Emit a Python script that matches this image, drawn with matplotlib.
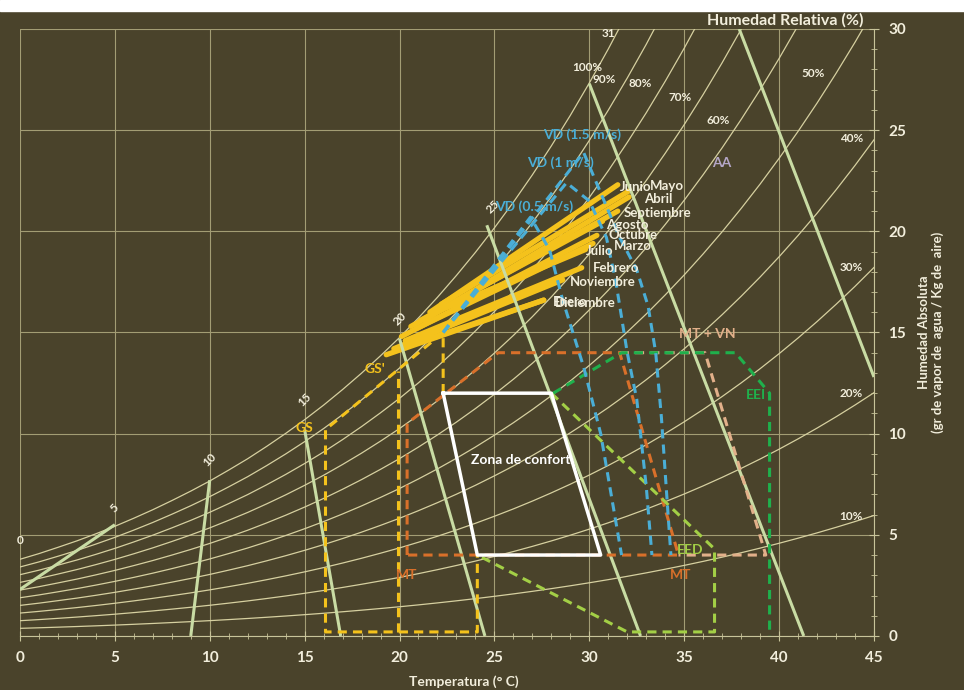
import numpy as np
import matplotlib
matplotlib.use('Agg')
import matplotlib.pyplot as plt
from matplotlib.patches import Rectangle
from matplotlib.ticker import MultipleLocator

plt.rcParams['font.family'] = ['Lato', 'DejaVu Sans']

# saturation humidity (g/kg), 0..45 C
temp_c = np.arange(0, 46)
hum_sat = [3.79, 4.07, 4.38, 4.70, 5.05, 5.42, 5.82, 6.24, 6.69, 7.16,
           7.66, 8.20, 8.76, 9.37, 10.01, 10.69, 11.41, 12.18, 12.99, 13.85,
           14.75, 15.72, 16.74, 17.82, 18.96, 20.17, 21.44, 22.79, 24.22, 25.73,
           27.33, 29.01, 30.79, 32.66, 34.65, 36.74, 38.95, 41.28, 43.74, 46.33,
           49.07, 51.96, 55.00, 58.21, 61.59, 65.16]
rh_levels = [10, 20, 30, 40, 50, 60, 70, 80, 90, 100]
rh_label_x = [43.8, 43.8, 43.8, 43.8, 41.8, 36.8, 34.8, 32.7, 30.8, 29.9]
rh_label_y = [5.9, 12.0, 18.2, 24.6, 27.8, 25.5, 26.6, 27.3, 27.5, 28.1]

# wet bulb segments
wb_labels = ['0', '5', '10', '15', '20', '25', '31']
wb_lab_x = [0.0, 5.0, 10.0, 15.0, 20.0, 24.9, 31.0]
wb_lab_y = [4.7, 6.3, 8.7, 11.7, 15.7, 21.2, 29.8]
wb_x0 = [0.0, 10.0, 15.0, 20.0, 24.6, 30.0, 37.9]
wb_y0 = [2.3, 7.7, 10.2, 14.7, 20.3, 27.3, 30.0]
wb_x1 = [5.0, 9.0, 16.9, 24.5, 32.7, 41.3, 45.0]
wb_y1 = [5.5, 0.0, 0.0, 0.0, 0.0, 0.0, 12.8]

# monthly lines
months = ['Enero', 'Febrero', 'Marzo', 'Abril', 'Mayo', 'Junio', 'Julio',
          'Agosto', 'Septiembre', 'Octubre', 'Noviembre', 'Diciembre']
m_x0 = [19.3, 20.3, 20.9, 21.3, 22.2, 21.6, 21.9, 21.1, 20.6, 20.1, 19.7, 20.3]
m_y0 = [13.9, 14.6, 15.2, 15.6, 16.4, 16.0, 16.0, 15.6, 15.3, 14.8, 14.2, 14.3]
m_x1 = [27.6, 29.6, 30.2, 32.1, 32.1, 31.5, 29.8, 30.7, 31.5, 30.4, 28.6, 27.6]
m_y1 = [16.6, 18.2, 19.4, 21.7, 22.0, 22.3, 19.1, 20.5, 21.0, 19.8, 17.6, 16.6]
m_lab_x = [28.1, 30.2, 31.3, 32.9, 33.2, 31.6, 29.8, 30.9, 31.8, 31.0, 29.0, 28.2]
m_lab_y = [16.5, 18.2, 19.25, 21.6, 22.25, 22.2, 19.05, 20.3, 20.9, 19.8, 17.5, 16.45]

# strategy zones
confort_x = [22.3, 28.0, 30.6, 24.1, 22.3]
confort_y = [12.0, 12.0, 4.0, 4.0, 12.0]
gs2_x = [22.3, 22.3, 16.1, 16.1, 24.1, 24.1]
gs2_y = [12.0, 15.0, 10.2, 0.2, 0.2, 4.0]
gs_x = [19.9, 19.9]
gs_y = [0.2, 13.1]
mt_x = [20.4, 20.4, 25.2, 31.6, 34.7, 20.4]
mt_y = [4.0, 10.5, 14.0, 14.0, 4.0, 4.0]
mtvn_x = [31.6, 36.1, 39.3, 34.7]
mtvn_y = [14.0, 14.0, 4.0, 4.0]
eei_x = [28.1, 31.7, 37.7, 39.5, 39.5]
eei_y = [12.0, 14.0, 14.0, 12.0, 0.0]
eed_x = [28.0, 36.6, 36.6, 32.0, 24.1]
eed_y = [12.0, 4.3, 0.2, 0.2, 4.0]
vd05_x = [22.3, 26.9, 27.9, 28.6, 29.7, 30.6, 31.7]
vd05_y = [15.0, 20.7, 19.1, 16.6, 13.3, 10.0, 4.0]
vd1_x = [22.3, 28.8, 30.0, 30.9, 31.4, 32.0, 32.5, 33.0, 33.3]
vd1_y = [15.0, 22.4, 21.5, 19.7, 17.5, 14.0, 11.7, 7.4, 4.0]
vd15_x = [22.3, 29.7, 30.6, 31.6, 32.5, 33.1, 33.5, 33.8, 34.1, 34.3]
vd15_y = [15.0, 23.9, 21.9, 19.7, 18.1, 16.3, 14.0, 10.8, 6.7, 4.0]

bg = '#4a432b'
txt = '#f2eedc'
yel = '#f4c21c'
ora = '#d9702a'
peach = '#e2b08a'
blue = '#4aaed6'
green = '#1fb04c'
lgreen = '#a3cf46'
wbc = '#c9dca4'
rhc = '#d6d0a0'

fig = plt.figure(figsize=(9.64, 6.9), dpi=100, facecolor=bg)
ax = fig.add_axes([0.0207, 0.0783, 0.8859, 0.8797], facecolor=bg)
fig.patches.append(Rectangle((0, 1 - 11 / 690), 1, 11 / 690, color='white',
                             transform=fig.transFigure, zorder=10))

# relative humidity curves
ws = np.array(hum_sat)
ps = 101.325 * ws / (622 + ws)
for rh in rh_levels:
    p = rh / 100 * ps
    w = 622 * p / (101.325 - p)
    ax.plot(temp_c, w, color=rhc, lw=0.9, zorder=2)
for lab, x, y in zip(rh_levels, rh_label_x, rh_label_y):
    ax.text(x, y, f'{lab}%', color=txt, fontsize=8.5, fontweight='bold',
            ha='center', va='center', zorder=8)

# wet bulb lines
for i in range(len(wb_labels)):
    ax.plot([wb_x0[i], wb_x1[i]], [wb_y0[i], wb_y1[i]], color=wbc, lw=2.2,
            zorder=4, solid_capstyle='butt')
    rot = 0 if wb_labels[i] in ('31', '0') else 45
    ax.text(wb_lab_x[i], wb_lab_y[i], wb_labels[i], color=txt, fontsize=8.5,
            fontweight='bold', rotation=rot, ha='center', va='center', zorder=8)

# months
for i, m in enumerate(months):
    ax.plot([m_x0[i], m_x1[i]], [m_y0[i], m_y1[i]], color=yel, lw=3.8,
            solid_capstyle='round', zorder=3)
    ax.text(m_lab_x[i], m_lab_y[i], m, color=txt, fontsize=9.5,
            fontweight='bold', ha='left', va='center', zorder=8)

dash = dict(ls=(0, (3, 2)), lw=2.2)
ax.plot(mtvn_x, mtvn_y, color=peach, zorder=5, **dash)
ax.plot(mt_x, mt_y, color=ora, zorder=5, **dash)
ax.plot(gs2_x, gs2_y, color=yel, zorder=5, **dash)
ax.plot(gs_x, gs_y, color=yel, zorder=5, **dash)
ax.plot(eed_x, eed_y, color=lgreen, zorder=5, **dash)
ax.plot(eei_x, eei_y, color=green, zorder=5, **dash)
ax.plot(vd05_x, vd05_y, color=blue, zorder=5, **dash)
ax.plot(vd1_x, vd1_y, color=blue, zorder=5, **dash)
ax.plot(vd15_x, vd15_y, color=blue, zorder=5, **dash)
ax.plot(confort_x, confort_y, color='white', lw=2.5, zorder=6)

lab = dict(fontsize=10, fontweight='bold', ha='center', va='center', zorder=8)
ax.text(26.4, 8.7, 'Zona de confort', color='white', **lab)
ax.text(15.0, 10.3, 'GS', color=yel, **lab)
ax.text(18.7, 13.2, "GS'", color=yel, **lab)
ax.text(29.6, 24.8, 'VD (1.5 m/s)', color=blue, **lab)
ax.text(28.5, 23.4, 'VD (1 m/s)', color=blue, **lab)
ax.text(27.1, 21.2, 'VD (0.5 m/s)', color=blue, **lab)
ax.text(37.0, 23.4, 'AA', color='#b4a6c6', **lab)
ax.text(36.2, 14.9, 'MT + VN', color=peach, **lab)
ax.text(20.4, 3.0, 'MT', color=ora, **lab)
ax.text(34.8, 3.0, 'MT', color=ora, **lab)
ax.text(38.8, 11.9, 'EEI', color=green, **lab)
ax.text(35.3, 4.25, 'EED', color=lgreen, **lab)

ax.set_xlim(0, 45)
ax.set_ylim(0, 30)
ax.xaxis.set_major_locator(MultipleLocator(5))
ax.xaxis.set_minor_locator(MultipleLocator(1))
ax.yaxis.set_major_locator(MultipleLocator(5))
ax.yaxis.set_minor_locator(MultipleLocator(1))
ax.yaxis.tick_right()
ax.yaxis.set_label_position('right')
ax.grid(True, which='major', color='#a39d74', lw=0.8, zorder=1)
ax.set_axisbelow(True)
for s in ['top', 'left']:
    ax.spines[s].set_visible(False)
for s in ['bottom', 'right']:
    ax.spines[s].set_color('#c8c49a')
ax.tick_params(which='both', colors='#c8c49a', direction='inout')
ax.tick_params(which='major', length=7, labelcolor=txt, labelsize=11, pad=7)
ax.tick_params(which='minor', length=4)
for t in ax.get_xticklabels() + ax.get_yticklabels():
    t.set_fontweight('bold')

ax.set_xlabel('Temperatura (° C)', color=txt, fontsize=10, fontweight='bold')
ax.xaxis.set_label_coords(0.52, -0.065)
ax.set_ylabel('Humedad Absoluta\n(gr de vapor de  agua / Kg de  aire)',
              color=txt, fontsize=9.5, fontweight='bold', labelpad=8)
ax.text(40.3, 30.45, 'Humedad Relativa (%)', color=txt, fontsize=11.5,
        fontweight='bold', ha='center', va='center')

fig.savefig('out.png', dpi=100, facecolor=bg)
